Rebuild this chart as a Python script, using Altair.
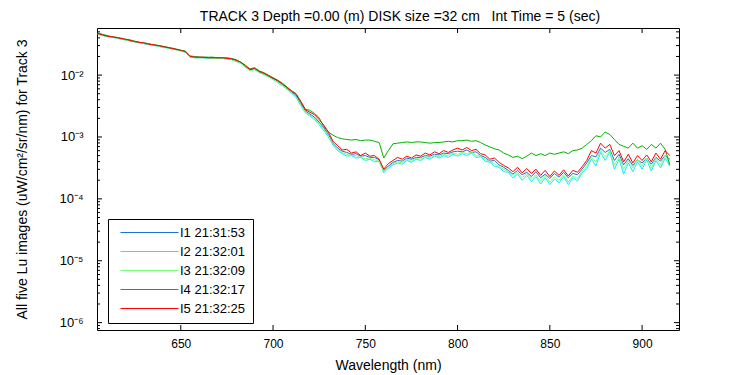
import altair as alt
import pandas as pd

FONT = "Liberation Sans"

TITLE = "TRACK 3 Depth =0.00 (m) DISK size =32 cm \u00a0 Int Time = 5 (sec)"
X_TITLE = "Wavelength (nm)"
Y_TITLE = "All five Lu images (uW/cm\u00b2/sr/nm) for Track 3"

SERIES = ["I1 21:31:53", "I2 21:32:01", "I3 21:32:09", "I4 21:32:17", "I5 21:32:25"]
COLORS = ["#1f6fd8", "#19e6ff", "#77ff77", "#00b400", "#ff0000"]

WL_START = 605.0
WL_STEP = 2.5

X_DOMAIN = [604.6, 920.0]
Y_DOMAIN = [7.6e-7, 0.0577]
X_TICKS = [650, 700, 750, 800, 850, 900]
Y_MAJOR = [1e-6, 1e-5, 1e-4, 1e-3, 1e-2]

# log10(Lu) * 100, sampled every 2.5 nm from 605 nm
I1 = [-133, -135, -137, -138, -140, -141, -143, -144, -146, -147,
      -149, -150, -151, -153, -154, -155, -157, -159, -160, -162,
      -170, -171, -171, -172, -172, -172, -172, -173, -173, -174,
      -177, -180, -186, -192, -190, -195, -198, -202, -206, -210,
      -215, -221, -227, -233, -246, -258, -263, -268, -276, -285,
      -296, -310, -318, -323, -325, -328, -327, -331, -330, -333,
      -333, -337, -354, -347, -341, -338, -339, -334, -336, -333,
      -333, -330, -331, -328, -329, -326, -327, -324, -323, -324,
      -321, -325, -324, -330, -333, -339, -338, -345, -349, -354,
      -360, -354, -361, -357, -364, -356, -366, -360, -367, -359,
      -365, -357, -366, -359, -361, -352, -342, -330, -332, -318,
      -325, -320, -338, -328, -345, -335, -346, -337, -342, -334,
      -344, -333, -339, -330, -336]
I2 = [-134, -136, -138, -139, -140, -142, -143, -145, -146, -148,
      -149, -151, -152, -153, -155, -156, -158, -159, -161, -163,
      -171, -172, -172, -172, -173, -173, -173, -173, -174, -175,
      -178, -181, -187, -193, -191, -196, -199, -203, -207, -212,
      -217, -223, -229, -236, -249, -261, -266, -272, -280, -290,
      -300, -313, -322, -327, -331, -330, -334, -333, -338, -336,
      -340, -339, -358, -350, -345, -342, -344, -338, -341, -336,
      -338, -333, -336, -331, -334, -330, -333, -328, -331, -327,
      -330, -326, -333, -332, -339, -341, -347, -349, -356, -357,
      -366, -360, -370, -362, -372, -364, -376, -366, -377, -368,
      -374, -364, -377, -366, -371, -358, -351, -336, -347, -325,
      -338, -324, -352, -336, -360, -342, -356, -340, -352, -337,
      -355, -338, -350, -334, -347]
I3 = [-134, -136, -137, -139, -140, -142, -143, -145, -146, -148,
      -149, -150, -152, -153, -155, -156, -157, -159, -161, -163,
      -171, -172, -172, -172, -172, -173, -173, -173, -174, -175,
      -177, -181, -187, -193, -191, -196, -199, -203, -207, -211,
      -216, -222, -228, -235, -248, -260, -265, -270, -278, -288,
      -298, -312, -320, -325, -328, -330, -330, -333, -335, -334,
      -337, -338, -356, -349, -343, -340, -342, -336, -339, -334,
      -336, -331, -334, -329, -332, -328, -330, -326, -328, -325,
      -327, -324, -330, -331, -336, -340, -343, -348, -352, -356,
      -362, -357, -366, -359, -368, -361, -371, -362, -373, -364,
      -370, -361, -373, -363, -367, -355, -347, -333, -340, -322,
      -332, -322, -346, -332, -352, -338, -350, -336, -347, -334,
      -350, -334, -345, -330, -342]
I4 = [-132, -134, -136, -138, -139, -140, -142, -143, -145, -147,
      -148, -149, -151, -152, -153, -155, -156, -158, -160, -161,
      -169, -170, -171, -171, -171, -171, -172, -172, -172, -173,
      -175, -179, -184, -190, -188, -193, -196, -200, -204, -208,
      -213, -219, -225, -230, -242, -255, -257, -262, -269, -283,
      -292, -297, -301, -303, -304, -305, -304, -306, -305, -305,
      -307, -309, -334, -322, -311, -310, -309, -308, -309, -308,
      -308, -309, -310, -309, -309, -308, -307, -308, -306, -306,
      -305, -307, -306, -309, -313, -316, -319, -321, -326, -329,
      -333, -331, -335, -331, -326, -330, -327, -330, -326, -328,
      -326, -324, -327, -322, -321, -318, -312, -306, -298, -300,
      -292, -296, -304, -312, -315, -318, -310, -318, -314, -320,
      -312, -318, -310, -320, -345]
I5 = [-133, -135, -137, -138, -139, -141, -142, -144, -146, -147,
      -148, -150, -151, -152, -154, -155, -157, -158, -160, -162,
      -170, -171, -171, -171, -172, -172, -172, -172, -173, -174,
      -176, -179, -185, -191, -189, -194, -197, -201, -205, -209,
      -214, -220, -226, -231, -243, -256, -260, -264, -272, -281,
      -292, -307, -314, -321, -320, -326, -324, -330, -326, -331,
      -330, -336, -352, -343, -338, -333, -336, -331, -334, -329,
      -331, -326, -329, -324, -327, -322, -325, -321, -318, -321,
      -317, -322, -320, -327, -329, -336, -334, -341, -346, -350,
      -356, -349, -358, -351, -359, -352, -362, -354, -364, -355,
      -362, -353, -363, -354, -357, -348, -338, -322, -326, -310,
      -318, -312, -330, -322, -340, -328, -342, -330, -338, -329,
      -340, -326, -336, -322, -330]

rows = []
for name, vals in zip(SERIES, [I1, I2, I3, I4, I5]):
    for i, v in enumerate(vals):
        rows.append({"series": name, "wl": WL_START + WL_STEP * i, "lu": 10 ** (v / 100.0)})
df = pd.DataFrame(rows)

W, H = 582, 302
MAJOR_LEN, MINOR_LEN = 5, 3

y_minor = [k * 10.0 ** e for e in range(-7, -1) for k in range(2, 10)
           if Y_DOMAIN[0] <= k * 10.0 ** e <= Y_DOMAIN[1]]

xs = alt.Scale(domain=X_DOMAIN, nice=False, zero=False)
ys = alt.Scale(type="log", domain=Y_DOMAIN, nice=False)

sup = "['\u2070','\u00b9','\u00b2','\u00b3','\u2074','\u2075','\u2076','\u2077']"
label_expr = "'10\u207b' + " + sup + "[round(-log(datum.value)/LN10)]"

lines = alt.Chart(df).mark_line(strokeWidth=1, clip=True).encode(
    x=alt.X("wl:Q", scale=xs, axis=alt.Axis(
        values=X_TICKS, format="d", title=X_TITLE, ticks=False, domain=False, grid=False,
        labelPadding=8, labelFontSize=12, titleFontSize=14, titleY=35,
        titleBaseline="middle")),
    y=alt.Y("lu:Q", scale=ys, axis=alt.Axis(
        values=Y_MAJOR, labelExpr=label_expr, title=Y_TITLE, ticks=False, domain=False,
        grid=False, labelPadding=14, labelFontSize=13, titleFontSize=14,
        titleX=-75, titleY=H / 2, titleAngle=270, titleAlign="center",
        titleBaseline="middle")),
    color=alt.Color("series:N", scale=alt.Scale(domain=SERIES, range=COLORS), sort=SERIES,
                    legend=alt.Legend(
                        title=None, orient="none", legendX=11, legendY=191,
                        direction="vertical", strokeColor="black", fillColor="white",
                        padding=7, symbolType="M-5.8,0H5.8", symbolSize=100,
                        symbolStrokeWidth=1, symbolOffset=28, labelOffset=24,
                        labelFontSize=13, labelFont=FONT, labelColor="black",
                        rowPadding=5, cornerRadius=0)),
)

ymaj = pd.DataFrame({"v": Y_MAJOR})
ymin = pd.DataFrame({"v": y_minor})
xt = pd.DataFrame({"t": X_TICKS})


def yrule(data, x1, x2):
    return alt.Chart(data).mark_rule(color="black", strokeWidth=1).encode(
        y=alt.Y("v:Q", scale=ys, axis=None), x=alt.value(x1), x2=alt.value(x2))


def xrule(data, y1, y2):
    return alt.Chart(data).mark_rule(color="black", strokeWidth=1).encode(
        x=alt.X("t:Q", scale=xs, axis=None), y=alt.value(y1), y2=alt.value(y2))


chart = alt.layer(
    lines,
    yrule(ymaj, 0, MAJOR_LEN), yrule(ymaj, W - MAJOR_LEN, W),
    yrule(ymin, 0, MINOR_LEN), yrule(ymin, W - MINOR_LEN, W),
    xrule(xt, 0, MAJOR_LEN), xrule(xt, H - MAJOR_LEN, H),
).resolve_axis(
    x="independent", y="independent"
).properties(
    width=W, height=H,
    padding={"left": 89, "top": 20, "right": 40, "bottom": 44},
    autosize=alt.AutoSizeParams(type="none"),
    title=alt.TitleParams(text=TITLE, anchor="middle", frame="group", dx=12),
).configure_view(
    stroke="black", strokeWidth=1
).configure_axis(
    labelFont=FONT, titleFont=FONT, labelColor="black", titleColor="black",
    titleFontWeight="normal"
).configure_title(
    font=FONT, fontSize=14, fontWeight="normal", color="black", offset=4
)

chart.save("out.html", embed_options={"renderer": "svg", "actions": False})
